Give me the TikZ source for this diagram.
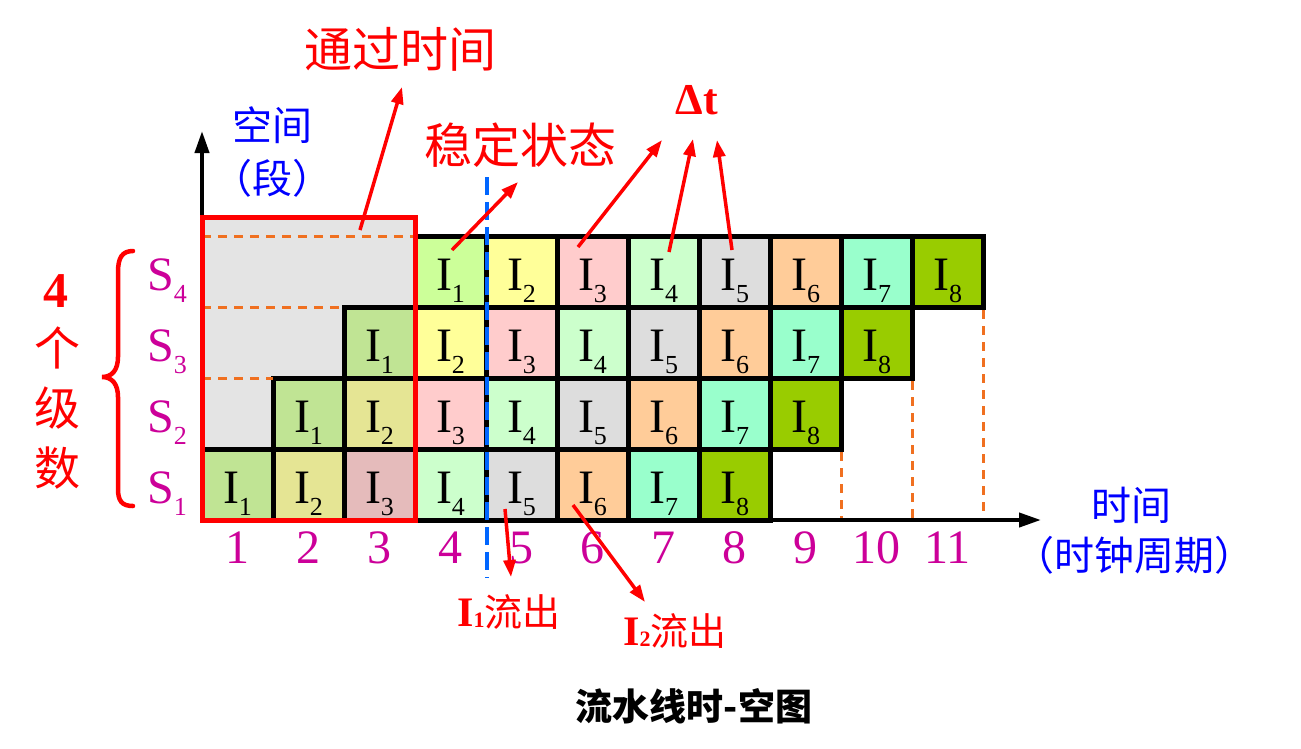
\documentclass[tikz,border=0pt]{standalone}
\usepackage{fontspec}
\setmainfont{Liberation Serif}
\newfontfamily\cjk{Noto Sans CJK SC}
\usetikzlibrary{arrows.meta}
\definecolor{c1}{HTML}{CCFF99}
\definecolor{c2}{HTML}{FFFF99}
\definecolor{c3}{HTML}{FFCCCC}
\definecolor{c4}{HTML}{CCFFCC}
\definecolor{c5}{HTML}{DDDDDD}
\definecolor{c6}{HTML}{FFCC99}
\definecolor{c7}{HTML}{99FFCC}
\definecolor{c8}{HTML}{99CC00}
\definecolor{b1}{HTML}{C0E494}
\definecolor{b2}{HTML}{E5E594}
\definecolor{b3}{HTML}{E5BBBB}
\definecolor{boxgray}{HTML}{E4E4E4}
\definecolor{redc}{HTML}{FF0000}
\definecolor{magc}{HTML}{CC0099}
\definecolor{bluec}{HTML}{0000FF}
\definecolor{dashblue}{HTML}{0066FF}
\definecolor{orangec}{HTML}{F07020}
\newcommand\mysub[2]{#1\raisebox{-12pt}{\fontsize{26}{26}\selectfont #2}}
\begin{document}
\begin{tikzpicture}[x=1pt,y=-1pt,
  cellbox/.style={draw=black, line width=5pt, minimum width=71pt, minimum height=71pt,
    inner sep=0pt, text height=52pt, text depth=15pt, font=\fontsize{48}{48}\selectfont},
  stagelbl/.style={text=magc, inner sep=0pt, text height=52pt, text depth=15pt,
    minimum height=71pt, font=\fontsize{48}{48}\selectfont},
  numlbl/.style={text=magc, anchor=base, inner sep=0pt, font=\fontsize{48}{48}\selectfont},
  orangedash/.style={draw=orangec, line width=3pt, dash pattern=on 9pt off 7pt},
  redarrow/.style={draw=redc, line width=3.5pt, -{Triangle[length=17pt,width=12pt]}},
  axisline/.style={draw=black, line width=4pt, -{Triangle[length=22pt,width=14pt]}},
  redlbl/.style={text=redc, inner sep=0pt, font=\cjk\fontsize{48}{48}\selectfont},
  bluelbl/.style={text=bluec, inner sep=0pt, font=\cjk\fontsize{40}{40}\selectfont}
]
\useasboundingbox (0,0) rectangle (1301,748);
\fill[white] (0,0) rectangle (1301,748);

% gray region inside the red box
\fill[boxgray] (202,217) rectangle (416,520);

% pipeline cells
\foreach \s in {1,...,4}{
  \foreach \i in {1,...,8}{
    \pgfmathtruncatemacro\t{\i+\s-1}
    \ifnum\t<4 \def\col{b\i}\else\def\col{c\i}\fi
    \node[cellbox, fill=\col] (c\s-\t) at ({202+71*(\t-1)+35.5},{236+71*(4-\s)+35.5}) {\mysub{I}{\i}};
  }
}

% orange dashed guides
\draw[orangedash] (202,236) -- (416,236);
\draw[orangedash] (202,307) -- (344,307);
\draw[orangedash] (202,378) -- (273,378);
\draw[orangedash] (841,452) -- (841,520);
\draw[orangedash] (912,381) -- (912,520);
\draw[orangedash] (983,310) -- (983,520);

% axes
\coordinate (O) at (202,520);
\coordinate (ytip) at (202,131);
\coordinate (xtip) at (1041,520);
\draw[axisline] (O) -- (ytip);
\draw[axisline] (O) -- (xtip);

% red box (pass-through time)
\draw[redc, line width=5pt] (202,217) rectangle (415,520);

% blue dashed line
\coordinate (bt) at (487,177);
\coordinate (bb) at (487,578);
\draw[dashblue, line width=4.5pt, dash pattern=on 18pt off 7pt] (bt) -- (bb);

% stage labels
\foreach \s in {1,...,4}{
  \node[stagelbl] (s\s) at (167,{236+71*(4-\s)+35.5}) {\mysub{S}{\s}};
}

% time numbers
\foreach \t in {1,...,11}{
  \node[numlbl] (n\t) at ({202+71*(\t-1)+35.5},563) {\t};
}

% brace
\draw[redc, line width=4.5pt, line cap=round]
  (133,251) .. controls (122,251) and (118,258) .. (118,272)
  -- (118,357) .. controls (118,370) and (112,377) .. (102,377)
  .. controls (112,377) and (118,384) .. (118,397)
  -- (118,489) .. controls (118,501) and (122,506) .. (133,506);

% 4 stages label
\node[text=redc, anchor=base, inner sep=0pt, font=\bfseries\fontsize{50}{50}\selectfont] (four) at (56,307) {4};
\node[redlbl, font=\cjk\fontsize{46}{46}\selectfont] (ge) at (57,348) {个};
\node[redlbl, font=\cjk\fontsize{46}{46}\selectfont] (ji) at (57,408) {级};
\node[redlbl, font=\cjk\fontsize{46}{46}\selectfont] (shu) at (57,468) {数};

% top labels
\node[redlbl] (tongguo) at (400,49) {通过时间};
\node[redlbl] (wending) at (520,145) {稳定状态};
\node[text=redc, inner sep=0pt, font=\bfseries\fontsize{44}{44}\selectfont] (dt) at (697,100) {Δt};
\node[bluelbl] (kongjian) at (272,125) {空间};
\node[bluelbl] (duan) at (272,178) {（段）};
\node[bluelbl] (shijian) at (1131,505) {时间};
\node[bluelbl] (zhouqi) at (1134,555) {（时钟周期）};

% bottom labels
\node[text=redc, inner sep=0pt] (out1) at (509,612)
  {{\bfseries\fontsize{42}{42}\selectfont I\raisebox{-1pt}{\fontsize{22}{22}\selectfont 1}}{\cjk\fontsize{38}{38}\selectfont 流出}};
\node[text=redc, inner sep=0pt] (out2) at (675,631)
  {{\bfseries\fontsize{42}{42}\selectfont I\raisebox{-1pt}{\fontsize{22}{22}\selectfont 2}}{\cjk\fontsize{38}{38}\selectfont 流出}};
\node[text=black, inner sep=0pt, font=\cjk\bfseries\fontsize{37}{37}\selectfont] (title) at (694,706) {流水线时-空图};

% red arrows
\coordinate (a1s) at (360,230); \coordinate (a1e) at (402,87);
\coordinate (a2s) at (452,250); \coordinate (a2e) at (518,182);
\coordinate (a3s) at (578,247); \coordinate (a3e) at (662,140);
\coordinate (a4s) at (669,252); \coordinate (a4e) at (693,139);
\coordinate (a5s) at (732,250); \coordinate (a5e) at (717,140);
\coordinate (a6s) at (505,509); \coordinate (a6e) at (511,577);
\coordinate (a7s) at (573,505); \coordinate (a7e) at (645,602);
\foreach \k in {1,...,7}{
  \draw[redarrow] (a\k s) -- (a\k e);
}
\end{tikzpicture}
\end{document}
